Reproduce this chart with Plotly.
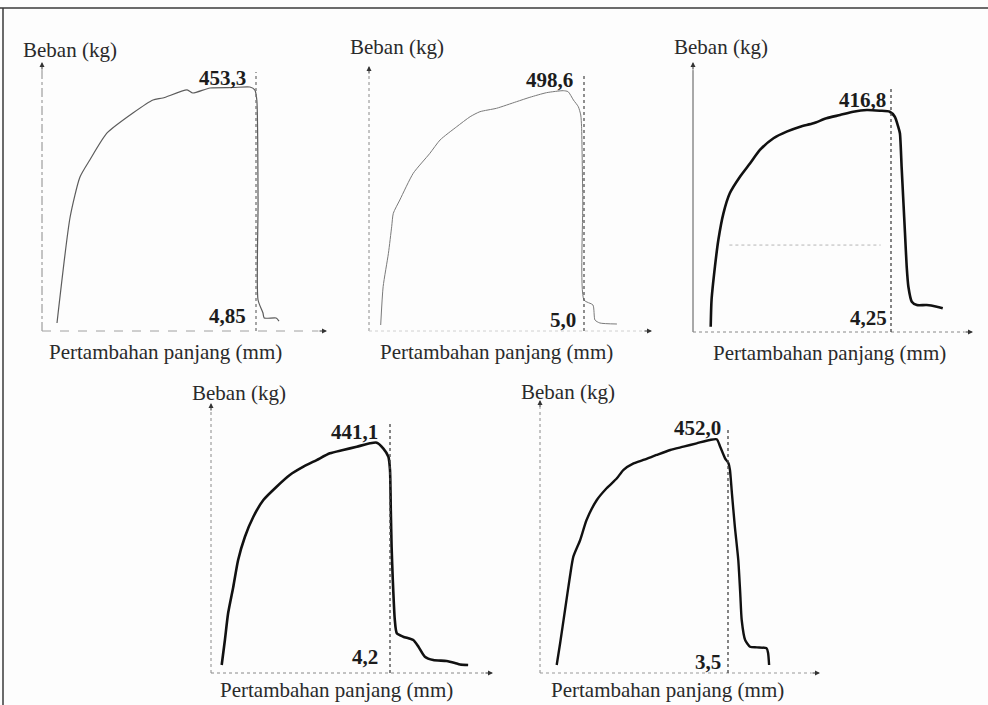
import plotly.graph_objects as go

# ---- load / elongation readings: elongation in mm, load in kg ----
elong_1 = [0.00, 0.32, 0.56, 0.80, 1.22, 1.85, 2.34, 2.58, 3.17, 3.31, 3.73, 4.29, 4.70,
           4.82, 4.87, 4.90, 4.90, 5.02, 5.05, 5.34, 5.41]
load_1 = [0.0, 203.6, 280.4, 313.1, 365.0, 403.4, 428.4, 432.2, 447.6, 441.8, 451.4, 452.3, 453.3,
          447.6, 428.4, 230.0, 44.2, 19.2, 9.6, 9.6, 3.8]

elong_2 = [0.00, 0.06, 0.19, 0.27, 0.31, 0.47, 0.80, 1.21, 1.46, 1.87, 2.20, 2.44, 2.85, 3.34,
           3.67, 4.08, 4.49, 4.61, 4.74, 4.86, 4.92, 4.94, 4.97, 5.00, 5.22, 5.27, 5.39, 5.81]
load_2 = [0.0, 81.5, 152.6, 209.2, 237.7, 266.0, 322.8, 365.4, 393.7, 422.0, 443.3, 453.9, 461.2, 475.2,
          484.6, 494.4, 498.6, 496.5, 478.8, 464.6, 446.9, 422.0, 266.0, 53.2, 42.6, 10.6, 4.3, 2.1]

elong_3 = [0.00, 0.02, 0.10, 0.18, 0.30, 0.45, 0.69, 0.93, 1.16, 1.48, 1.79, 2.11, 2.42, 2.73, 3.05,
           3.36, 3.68, 3.99, 4.22, 4.34, 4.42, 4.46, 4.50, 4.54, 4.58, 4.62, 4.66, 4.74, 4.86, 5.09,
           5.33, 5.47]
load_3 = [0.0, 51.4, 115.4, 166.8, 218.1, 256.6, 288.5, 314.3, 339.9, 362.4, 375.1, 384.7, 391.2, 400.8,
          407.2, 413.5, 416.8, 415.5, 413.5, 403.9, 384.7, 372.0, 307.7, 243.7, 179.6, 115.4, 76.9, 48.1,
          41.7, 41.7, 38.5, 35.4]

elong_4 = [0.00, 0.08, 0.16, 0.29, 0.41, 0.58, 0.79, 1.04, 1.37, 1.70, 2.04, 2.37, 2.70, 3.03, 3.37,
           3.70, 3.87, 4.03, 4.16, 4.20, 4.22, 4.24, 4.27, 4.32, 4.37, 4.53, 4.78, 4.91, 5.07, 5.28,
           5.61, 5.82, 5.95, 6.15]
load_4 = [0.0, 49.6, 102.6, 155.4, 208.3, 254.6, 294.2, 327.4, 353.8, 377.0, 393.5, 406.7, 420.0, 426.6,
          433.1, 439.9, 441.1, 430.0, 413.3, 386.9, 307.5, 234.7, 168.7, 89.3, 62.9, 56.2, 49.6, 36.3,
          16.5, 9.9, 7.9, 4.0, 1.0, 0.0]

elong_5 = [0.00, 0.07, 0.17, 0.27, 0.34, 0.48, 0.61, 0.82, 1.02, 1.23, 1.36, 1.57, 1.77, 2.04, 2.32,
           2.59, 2.86, 3.13, 3.27, 3.34, 3.44, 3.51, 3.54, 3.58, 3.64, 3.71, 3.75, 3.78, 3.85, 3.95,
           4.09, 4.29, 4.32, 4.34]
load_5 = [0.0, 43.5, 110.2, 176.8, 216.9, 250.4, 290.4, 330.5, 353.9, 373.9, 390.5, 403.9, 410.6, 420.6,
          430.6, 437.2, 444.0, 450.7, 452.0, 437.2, 413.9, 403.9, 390.5, 343.9, 277.0, 210.3, 143.6,
          90.1, 50.1, 36.7, 35.4, 33.4, 23.4, 0.0]

peak_load = [453.3, 498.6, 416.8, 441.1, 452.0]
break_elong = [4.85, 5.0, 4.25, 4.2, 3.5]
peak_text = ["453,3", "498,6", "416,8", "441,1", "452,0"]
break_text = ["4,85", "5,0", "4,25", "4,2", "3,5"]
y_title = "Beban (kg)"
x_title = "Pertambahan panjang (mm)"

curves = [(elong_1, load_1), (elong_2, load_2), (elong_3, load_3), (elong_4, load_4), (elong_5, load_5)]

W, H = 988, 705
FONT = "Times New Roman, Liberation Serif, DejaVu Serif, serif"
INK = "#1c1c1c"

# Panel geometry (pixels): axis box, curve origin, column of the break line,
# row of the peak, top of the break line, and styling of each panel.
geom = [
    dict(box=(42, 327, 62, 331), org=(57, 323), brk_px=256, pk_px=87, vtop=72,
         col="#5c5c5c", lw=1.2, vcol="#777", ydash="dashdot", ycol="#8a8a8a", xdash="dash", xcol="#a0a0a0",
         pk_sh=(-8, 9), brk_sh=(-8, 15), yt_dy=12, xt=(123, -21)),
    dict(box=(369, 652, 66, 331), org=(380.7, 325), brk_px=584, pk_px=90.7, vtop=75,
         col="#7a7a7a", lw=1.0, vcol="#555", ydash="dot", ycol="#8a8a8a", xdash="dot", xcol="#d0d0d0",
         pk_sh=(-9, 11), brk_sh=(-6, 11), yt_dy=19, xt=(127, -21)),
    dict(box=(693, 973, 62, 332), org=(710.7, 326.7), brk_px=891, pk_px=110, vtop=88,
         col="#111", lw=2.6, vcol="#444", ydash="solid", ycol="#555", xdash="dot", xcol="#888",
         pk_sh=(-3, 10), brk_sh=(-2, 14), yt_dy=15, xt=(136, -21)),
    dict(box=(211, 493, 403, 673), org=(221.7, 665), brk_px=390, pk_px=442.7, vtop=422,
         col="#111", lw=2.6, vcol="#444", ydash="dot", ycol="#8a8a8a", xdash="dot", xcol="#888",
         pk_sh=(-10, 11), brk_sh=(-10, 16), yt_dy=10, xt=(125.5, -17)),
    dict(box=(540, 820, 400, 673), org=(556.7, 665), brk_px=728, pk_px=439.3, vtop=430,
         col="#111", lw=2.4, vcol="#444", ydash="dot", ycol="#8a8a8a", xdash="dot", xcol="#999",
         pk_sh=(-5, 11), brk_sh=(-5, 11), yt_dy=8, xt=(127, -17)),
]

fig = go.Figure()
layout = {}
shapes = []
annotations = []

for i, g in enumerate(geom):
    n = "" if i == 0 else str(i + 1)
    xa, ya = f"x{n}", f"y{n}"
    L, R, T, B = g["box"]
    ox, oy = g["org"]
    sx = (g["brk_px"] - ox) / break_elong[i]
    sy = (oy - g["pk_px"]) / peak_load[i]
    layout[f"xaxis{n}"] = dict(domain=[L / W, R / W], range=[(L - ox) / sx, (R - ox) / sx],
                               anchor=ya, visible=False, fixedrange=True)
    layout[f"yaxis{n}"] = dict(domain=[1 - B / H, 1 - T / H], range=[(oy - B) / sy, (oy - T) / sy],
                               anchor=xa, visible=False, fixedrange=True)

    ex, ld = curves[i]
    fig.add_trace(go.Scatter(x=ex, y=ld, xaxis=xa, yaxis=ya, mode="lines",
                             line=dict(color=g["col"], width=g["lw"], shape="spline", smoothing=0.6),
                             hoverinfo="skip", showlegend=False))

    # axes drawn as light dotted lines with arrow heads
    shapes.append(dict(type="line", xref=f"{xa} domain", yref=f"{ya} domain", x0=0, x1=0, y0=0, y1=0.97,
                       line=dict(color=g["ycol"], width=1, dash=g["ydash"])))
    shapes.append(dict(type="line", xref=f"{xa} domain", yref=f"{ya} domain", x0=0, x1=0.97, y0=0, y1=0,
                       line=dict(color=g["xcol"], width=1, dash=g["xdash"])))
    annotations.append(dict(xref=f"{xa} domain", yref=f"{ya} domain", x=0, y=1, ax=0, ay=9, text="",
                            showarrow=True, arrowhead=2, arrowsize=1, arrowwidth=1, arrowcolor="#333"))
    annotations.append(dict(xref=f"{xa} domain", yref=f"{ya} domain", x=1, y=0, ax=-9, ay=0, text="",
                            showarrow=True, arrowhead=2, arrowsize=1, arrowwidth=1, arrowcolor="#333"))

    # break line at the final elongation
    top_frac = (B - g["vtop"]) / (B - T)
    shapes.append(dict(type="line", xref=xa, yref=f"{ya} domain", x0=break_elong[i], x1=break_elong[i],
                       y0=0, y1=top_frac, line=dict(color=g["vcol"], width=1.3, dash="dot")))

    # value labels
    annotations.append(dict(xref=xa, yref=ya, x=break_elong[i], y=peak_load[i],
                            text=f"<b>{peak_text[i]}</b>", showarrow=False,
                            xanchor="right", yanchor="middle",
                            xshift=g["pk_sh"][0], yshift=g["pk_sh"][1],
                            font=dict(family=FONT, size=21, color=INK)))
    annotations.append(dict(xref=xa, yref=f"{ya} domain", x=break_elong[i], y=0,
                            text=f"<b>{break_text[i]}</b>", showarrow=False,
                            xanchor="right", yanchor="middle",
                            xshift=g["brk_sh"][0], yshift=g["brk_sh"][1],
                            font=dict(family=FONT, size=21, color=INK)))

    # axis titles
    annotations.append(dict(xref=f"{xa} domain", yref=f"{ya} domain", x=0, y=1, text=y_title,
                            showarrow=False, xanchor="center", yanchor="middle",
                            xshift=28, yshift=g["yt_dy"],
                            font=dict(family=FONT, size=21, color="#2a2a2a")))
    annotations.append(dict(xref=f"{xa} domain", yref=f"{ya} domain", x=0, y=0, text=x_title,
                            showarrow=False, xanchor="center", yanchor="middle",
                            xshift=g["xt"][0], yshift=g["xt"][1],
                            font=dict(family=FONT, size=21, color="#2a2a2a")))

# faint construction line inside the third panel
shapes.append(dict(type="line", xref="x3 domain", yref="y3 domain", x0=0.13, x1=0.67, y0=0.322, y1=0.322,
                   line=dict(color="#b5b5b5", width=1, dash="dot")))

# page frame: rule along the top and the left edge
shapes.append(dict(type="line", xref="paper", yref="paper", x0=0, x1=1, y0=1 - 8 / H, y1=1 - 8 / H,
                   line=dict(color="#3a3a3a", width=1.5)))
shapes.append(dict(type="line", xref="paper", yref="paper", x0=3 / W, x1=3 / W, y0=0, y1=1 - 8 / H,
                   line=dict(color="#3a3a3a", width=1.5)))

fig.update_layout(
    width=W, height=H,
    margin=dict(l=0, r=0, t=0, b=0),
    paper_bgcolor="#fdfdfd", plot_bgcolor="#fdfdfd",
    showlegend=False,
    font=dict(family=FONT),
    shapes=shapes, annotations=annotations,
    **layout,
)

fig.write_html("out.html")
